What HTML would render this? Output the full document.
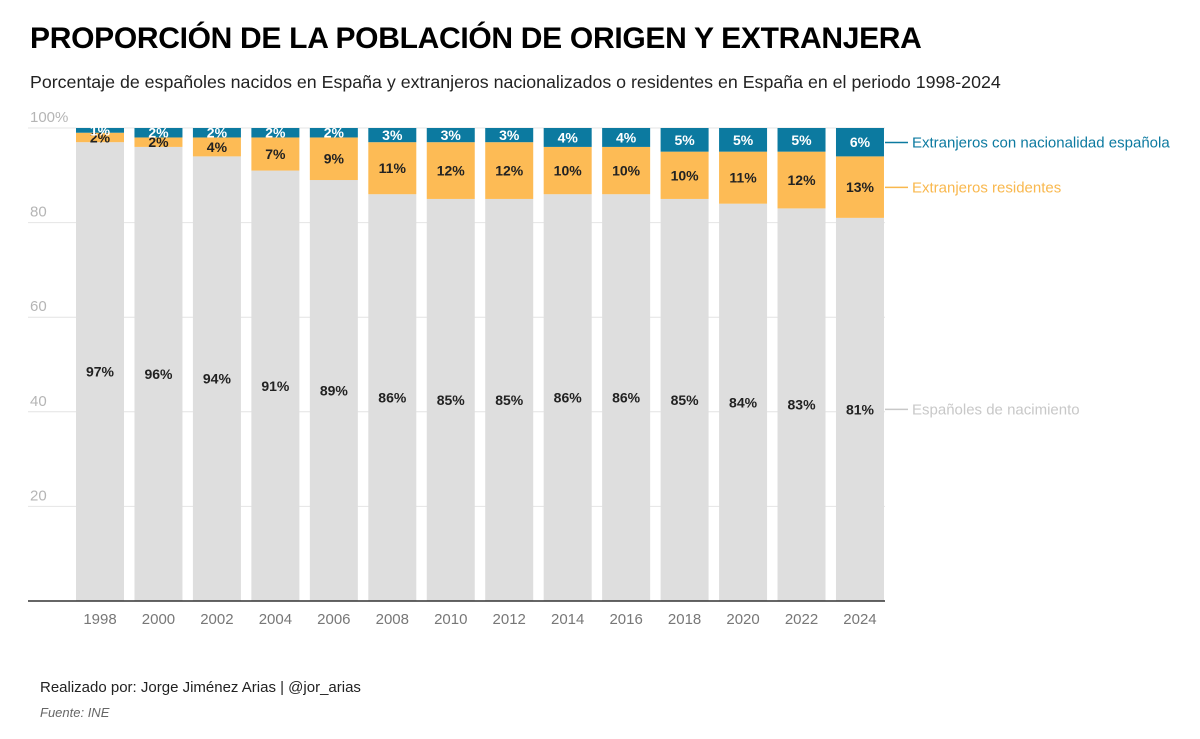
<!DOCTYPE html>
<html><head><meta charset="utf-8">
<style>
body{margin:0;width:1200px;height:739px;background:#fff;font-family:"Liberation Sans",sans-serif;overflow:hidden;position:relative}
h1{position:absolute;left:30px;top:22px;margin:0;font-size:30px;font-weight:900;color:#000;letter-spacing:-0.3px}
.sub{position:absolute;left:30px;top:72px;font-size:17.8px;color:#222}
.credit{position:absolute;left:40px;top:679px;font-size:15px;color:#222}
.src{position:absolute;left:40px;top:705px;font-size:13px;color:#666;font-style:italic}
svg{position:absolute;left:0;top:0}
</style></head><body>
<h1>PROPORCIÓN DE LA POBLACIÓN DE ORIGEN Y EXTRANJERA</h1>
<div class="sub">Porcentaje de españoles nacidos en España y extranjeros nacionalizados o residentes en España en el periodo 1998-2024</div>
<svg id="chart" width="1200" height="739"></svg>
<div class="credit">Realizado por: Jorge Jiménez Arias | @jor_arias</div>
<div class="src">Fuente: INE</div>
<script>
const years=["1998","2000","2002","2004","2006","2008","2010","2012","2014","2016","2018","2020","2022","2024"];
const espanoles=[97,96,94,91,89,86,85,85,86,86,85,84,83,81];
const residentes=[2,2,4,7,9,11,12,12,10,10,10,11,12,13];
const nacionalizados=[1,2,2,2,2,3,3,3,4,4,5,5,5,6];
const yTicks=[20,40,60,80,100];
const NS="http://www.w3.org/2000/svg";
const svg=document.getElementById('chart');
const y0=601,y100=128;
const y=v=>y0-(y0-y100)*v/100;
const xc=i=>100+i*58.46;
const bw=48;
function mk(t,a){const e=document.createElementNS(NS,t);for(const k in a)e.setAttribute(k,a[k]);svg.appendChild(e);return e;}
yTicks.forEach(t=>{
 const g=mk('line',{x1:28,x2:885,y1:y(t),y2:y(t),stroke:'#e4e4e4','stroke-width':1});
 
 
 const l=mk('text',{x:30,y:y(t)-6,fill:'#b5b5b5','font-size':15});
 l.textContent=t===100?'100%':t;
 
 
});
years.forEach((yr,i)=>{
 const x=xc(i)-bw/2;
 const e=espanoles[i],r=residentes[i],n=nacionalizados[i];
 const segs=[[0,e,'#dedede','bar-espanoles','#222'],[e,e+r,'#fdbb55','bar-residentes','#222'],[e+r,e+r+n,'#0c7aa0','bar-nacionalizados','#fff']];
 segs.forEach(([a,b,c,nm,tc])=>{
  const rc=mk('rect',{x:x,y:y(b),width:bw,height:y(a)-y(b),fill:c});
  
  
  const t=mk('text',{x:xc(i),y:(y(a)+y(b))/2+5,'text-anchor':'middle','font-size':14,'font-weight':'bold',fill:tc});
  t.textContent=(b-a)+'%';
  
  
 });
 const xl=mk('text',{x:xc(i),y:624,'text-anchor':'middle','font-size':15,fill:'#777'});
 xl.textContent=yr;
 
 
});
const ax=mk('line',{x1:28,x2:885,y1:y0,y2:y0,stroke:'#333','stroke-width':1.5});


const L=years.length-1;
const labs=[[espanoles[L]/2,'Españoles de nacimiento','#c8c8c8',0],[espanoles[L]+residentes[L]/2+1,'Extranjeros residentes','#f9b84e',5],[espanoles[L]+residentes[L]+nacionalizados[L]/2+1,'Extranjeros con nacionalidad española','#0c7aa0',5]];
labs.forEach(([v,tx,c,off])=>{
 const ly=y(v)+off;
 const ln=mk('line',{x1:885,x2:908,y1:ly,y2:ly,stroke:c,'stroke-width':1.5});
 
 
 const t=mk('text',{x:912,y:ly+5,'font-size':15,fill:c});
 t.textContent=tx;
 
 
});
</script>
</body></html>
